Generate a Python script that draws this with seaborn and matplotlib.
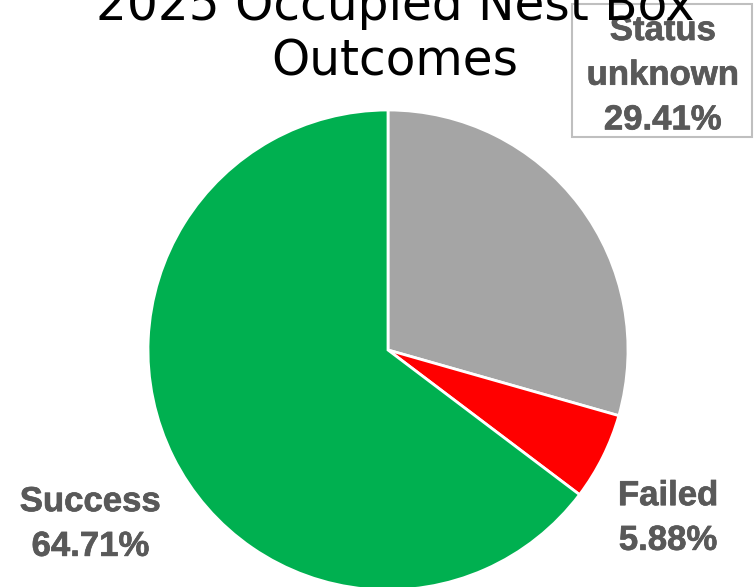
import matplotlib
matplotlib.use("Agg")
import matplotlib.pyplot as plt
import matplotlib.patheffects as pe
from matplotlib.patches import Rectangle
import seaborn as sns

sns.set_style("white")
plt.rcParams['font.family'] = ['DejaVu Sans']

categories = ["Status unknown", "Failed", "Success"]
counts = [5, 1, 11]
percent_labels = ["29.41%", "5.88%", "64.71%"]
colors = ["#A5A5A5", "#FF0000", "#00B050"]
title = "2025 Occupied Nest Box\nOutcomes"

fig = plt.figure(figsize=(7.55, 5.87), dpi=100)
W, H = 755, 587
cx, cy, r = 388, 350, 240
ax = fig.add_axes([(cx - r) / W, (H - cy - r) / H, 2 * r / W, 2 * r / H])

wedges, _ = ax.pie(counts, colors=colors, startangle=90, counterclock=False,
                   wedgeprops=dict(edgecolor="white", linewidth=2))
ax.set_xlim(-1, 1)
ax.set_ylim(-1, 1)
ax.set_aspect("equal")
ax.axis("off")

# label box for "Status unknown"
ax.add_patch(Rectangle((572 / W, 1 - 137 / H), 180 / W, 133 / H,
                       transform=fig.transFigure, facecolor="white",
                       edgecolor="#BFBFBF", linewidth=1.5, zorder=4, clip_on=False))

label_font = dict(family="Liberation Sans", weight="bold", size=25, color="#595959")
stroke = [pe.withStroke(linewidth=0.5, foreground="#595959")]
label_pos = [(1.145, 1.145), (1.167, -0.70), (-1.24, -0.725)]
for cat, pct, (x, y) in zip(categories, percent_labels, label_pos):
    text = cat.replace(" ", "\n") + "\n" + pct
    t = ax.text(x, y, text, ha="center", va="center", linespacing=1.45,
                clip_on=False, zorder=5, **label_font)
    t.set_path_effects(stroke)

fig.text(0.523, 1 - 76 / H, title, ha="center", va="baseline", fontsize=35,
         linespacing=1.22, color="black", zorder=10)

fig.savefig("out.png", dpi=100)
